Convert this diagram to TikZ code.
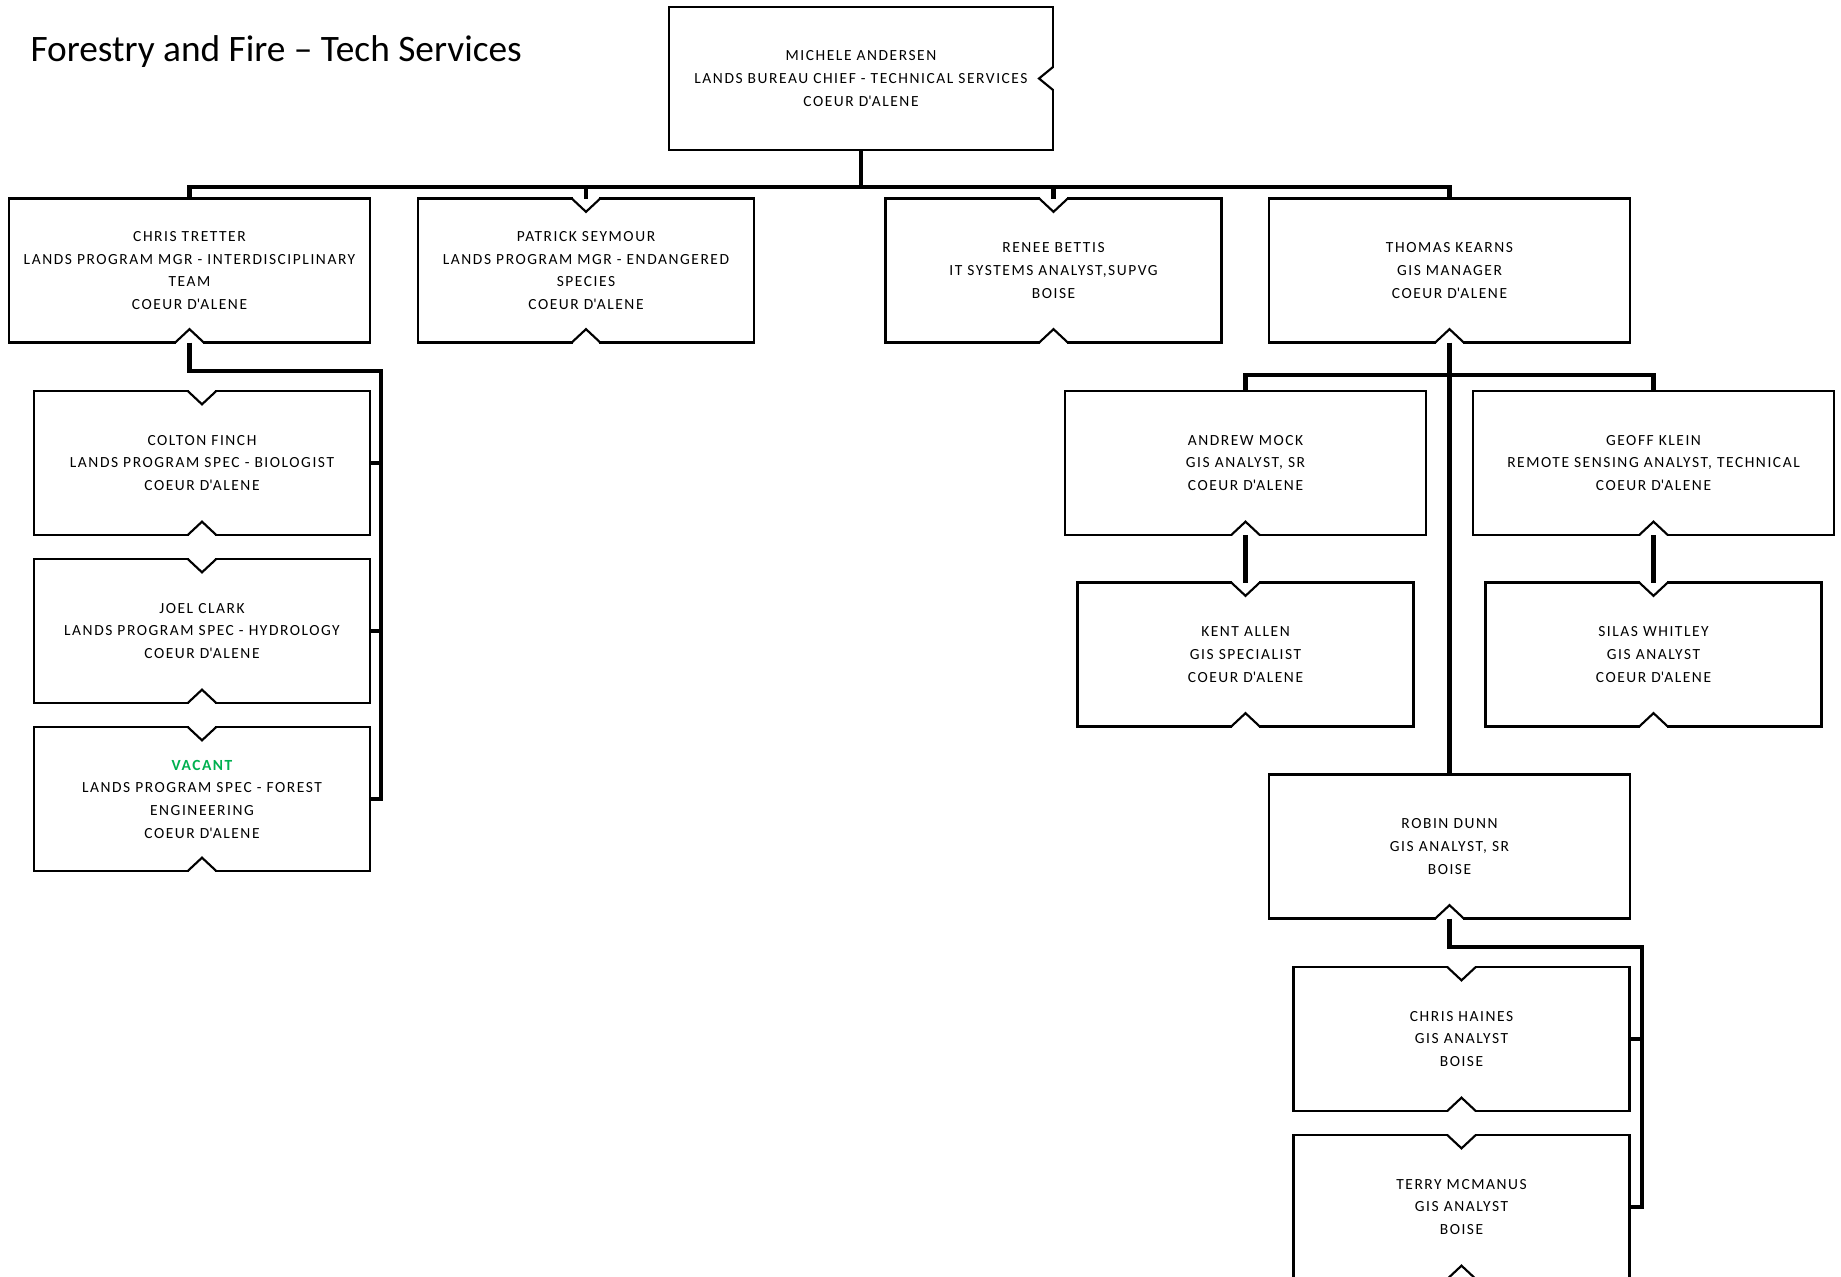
\documentclass[tikz,border=0pt]{standalone}
\usepackage{fontspec}
\setmainfont{Carlito}
\newfontfamily\boxfont{Carlito}[LetterSpace = 10]
\definecolor{vacantgreen}{RGB}{0,176,80}

\begin{document}
\begin{tikzpicture}[x = 0.75pt, y = -0.75pt, line width = 1.6pt,
                        person/.style = {rectangle, draw, minimum height = 108pt, align = center,
                                         inner sep = 0pt, outer sep = 0pt,
                                         font = \boxfont\fontsize{11.6}{17}\selectfont},
                        wide/.style = {person, minimum width = 270.75pt},
                        narrow/.style = {person, minimum width = 252pt},
                        link/.style = {line width = 3.3pt}]
      \useasboundingbox (0, 0) rectangle (1841, 1277);
      \node [anchor = base west, font = \fontsize{28}{34}\selectfont] (title) at (25, 62)
            {Forestry and Fire – Tech Services};

      \node [person, minimum width = 288pt, minimum height = 107pt] (chief) at (861, 78.5)
            {MICHELE ANDERSEN\\LANDS BUREAU CHIEF - TECHNICAL SERVICES\\COEUR D\textquotesingle ALENE};

      \node [wide] (tretter) at (189.5, 270.5)
            {CHRIS TRETTER\\LANDS PROGRAM MGR - INTERDISCIPLINARY\\TEAM\\COEUR D\textquotesingle ALENE};
      \node [narrow] (seymour) at (586, 270.5)
            {PATRICK SEYMOUR\\LANDS PROGRAM MGR - ENDANGERED\\SPECIES\\COEUR D\textquotesingle ALENE};
      \node [narrow] (bettis) at (1053.5, 270.5)
            {RENEE BETTIS\\IT SYSTEMS ANALYST,SUPVG\\BOISE};
      \node [wide] (kearns) at (1449.5, 270.5)
            {THOMAS KEARNS\\GIS MANAGER\\COEUR D\textquotesingle ALENE};

      \node [narrow] (finch) at (202, 463)
            {COLTON FINCH\\LANDS PROGRAM SPEC - BIOLOGIST\\COEUR D\textquotesingle ALENE};
      \node [narrow] (clark) at (202, 631)
            {JOEL CLARK\\LANDS PROGRAM SPEC - HYDROLOGY\\COEUR D\textquotesingle ALENE};
      \node [narrow] (vacant) at (202, 799)
            {\textcolor{vacantgreen}{\bfseries VACANT}\\LANDS PROGRAM SPEC - FOREST\\ENGINEERING\\COEUR D\textquotesingle ALENE};

      \node [wide] (mock) at (1245.5, 463)
            {ANDREW MOCK\\GIS ANALYST, SR\\COEUR D\textquotesingle ALENE};
      \node [wide] (klein) at (1653.5, 463)
            {GEOFF KLEIN\\REMOTE SENSING ANALYST, TECHNICAL\\COEUR D\textquotesingle ALENE};
      \node [narrow] (allen) at (1245.5, 654.5)
            {KENT ALLEN\\GIS SPECIALIST\\COEUR D\textquotesingle ALENE};
      \node [narrow] (whitley) at (1653.5, 654.5)
            {SILAS WHITLEY\\GIS ANALYST\\COEUR D\textquotesingle ALENE};
      \node [wide] (dunn) at (1449.5, 846.5)
            {ROBIN DUNN\\GIS ANALYST, SR\\BOISE};
      \node [narrow] (haines) at (1461.5, 1039)
            {CHRIS HAINES\\GIS ANALYST\\BOISE};
      \node [narrow] (mcmanus) at (1461.5, 1207)
            {TERRY MCMANUS\\GIS ANALYST\\BOISE};

      % notches in the box outlines
      \foreach \n in {seymour, bettis, finch, clark, vacant, allen, whitley, haines, mcmanus} {
        \fill [white] ([xshift = -10pt, yshift = -1.2pt]\n.north) rectangle ([xshift = 10pt, yshift = 1.2pt]\n.north);
        \draw ([xshift = -10.7pt]\n.north) -- ([yshift = -10pt]\n.north) -- ([xshift = 10.7pt]\n.north);
      }
      \foreach \n in {tretter, seymour, bettis, kearns, finch, clark, vacant, mock, klein, allen, whitley, dunn, haines, mcmanus} {
        \fill [white] ([xshift = -10pt, yshift = -1.2pt]\n.south) rectangle ([xshift = 10pt, yshift = 1.2pt]\n.south);
        \draw ([xshift = -10.7pt]\n.south) -- ([yshift = 10pt]\n.south) -- ([xshift = 10.7pt]\n.south);
      }
      \fill [white] ([xshift = -1.2pt, yshift = -8pt]chief.east) rectangle ([xshift = 1.2pt, yshift = 8pt]chief.east);
      \draw ([yshift = 8.6pt]chief.east) -- ([xshift = -10.5pt]chief.east) -- ([yshift = -8.6pt]chief.east);

      % connectors
      \coordinate (bus) at (0, 187);
      \coordinate (kbus) at (0, 375);
      \coordinate (lspine) at (381, 371);
      \coordinate (rspine) at (1642, 947);
      \draw [link] (chief.south) -- (chief.south |- bus);
      \draw [link] (tretter.north) -- (tretter.north |- bus) -- (kearns.north |- bus) -- (kearns.north);
      \draw [link] (seymour.north) -- (seymour.north |- bus);
      \draw [link] (bettis.north) -- (bettis.north |- bus);
      \draw [link] (tretter.south) |- (lspine) |- (vacant.east);
      \draw [link] (finch.east) -- (finch.east -| lspine);
      \draw [link] (clark.east) -- (clark.east -| lspine);
      \draw [link] (kearns.south) -- (dunn.north);
      \draw [link] (mock.north) -- (mock.north |- kbus) -- (klein.north |- kbus) -- (klein.north);
      \draw [link] (mock.south) -- (allen.north);
      \draw [link] (klein.south) -- (whitley.north);
      \draw [link] (dunn.south) |- (rspine) |- (mcmanus.east);
      \draw [link] (haines.east) -- (haines.east -| rspine);
    \end{tikzpicture}
\end{document}
